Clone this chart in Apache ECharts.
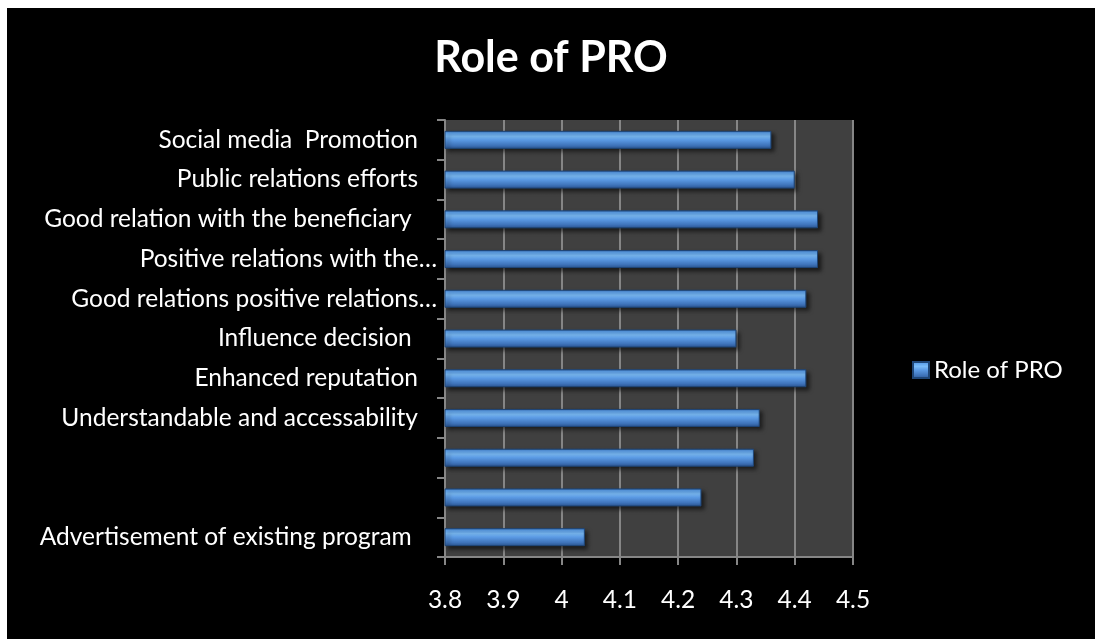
<!DOCTYPE html>
<html>
<head>
<meta charset="utf-8">
<script src="https://cdn.jsdelivr.net/npm/echarts@6/dist/echarts.min.js"></script>
<style>
html,body{margin:0;padding:0;background:#ffffff;}
#chart{position:absolute;left:7px;top:8px;width:1088px;height:631px;}
</style>
</head>
<body>
<div id="chart"></div>
<script>
// Data (top to bottom)
const titleText = 'Role of PRO';
const seriesName = 'Role of PRO';
const categories = [
  'Social media  Promotion',
  'Public relations efforts',
  'Good relation with the beneficiary ',
  'Positive relations with the…',
  'Good relations positive relations…',
  'Influence decision ',
  'Enhanced reputation',
  'Understandable and accessability',
  '',
  '',
  'Advertisement of existing program '
];
const values = [4.36, 4.40, 4.44, 4.44, 4.42, 4.30, 4.42, 4.34, 4.33, 4.24, 4.04];
const xMin = 3.8, xMax = 4.5, xStep = 0.1;

const FONT = 'Lato';
const LABEL_SIZE = 24.5;
const chart = echarts.init(document.getElementById('chart'));

const barGradient = new echarts.graphic.LinearGradient(0, 0, 0, 1, [
  {offset: 0, color: '#2f62a6'},
  {offset: 0.12, color: '#5ea2ec'},
  {offset: 0.3, color: '#7bbcf8'},
  {offset: 0.5, color: '#5b9ae4'},
  {offset: 0.8, color: '#3f74bb'},
  {offset: 1, color: '#2b5592'}
]);

chart.setOption({
  backgroundColor: '#000000',
  animation: false,
  title: {
    text: titleText,
    left: 'center',
    top: 24,
    textStyle: {color: '#ffffff', fontFamily: FONT, fontWeight: 'bold', fontSize: 43}
  },
  legend: {
    data: [seriesName],
    left: 900,
    top: 345,
    itemWidth: 16,
    itemHeight: 16,
    itemGap: 6,
    icon: 'rect',
    textStyle: {color: '#ffffff', fontFamily: FONT, fontSize: 24}
  },
  grid: {
    left: 438,
    right: 242,
    top: 112,
    bottom: 82,
    show: true,
    backgroundColor: '#404040',
    borderWidth: 0
  },
  xAxis: {
    type: 'value',
    min: xMin,
    max: xMax,
    interval: xStep,
    axisLine: {show: true, lineStyle: {color: '#868686', width: 2}},
    axisTick: {show: true, length: 8, lineStyle: {color: '#868686', width: 2}},
    axisLabel: {color: '#ffffff', fontFamily: FONT, fontSize: LABEL_SIZE, margin: 31,
      formatter: v => String(Math.round(v * 10) / 10)},
    splitLine: {show: true, lineStyle: {color: '#868686', width: 2}}
  },
  yAxis: {
    type: 'category',
    inverse: true,
    data: categories,
    axisLine: {show: true, lineStyle: {color: '#868686', width: 2}},
    axisTick: {show: true, length: 8, lineStyle: {color: '#868686', width: 2}},
    axisLabel: {
      color: '#ffffff', fontFamily: FONT, fontSize: LABEL_SIZE, margin: 8, interval: 0,
      formatter: v => v.endsWith('…') ? '{e|' + v + '}' : '{n|' + v + '}',
      rich: {
        e: {color: '#ffffff', fontFamily: FONT, fontSize: LABEL_SIZE},
        n: {color: '#ffffff', fontFamily: FONT, fontSize: LABEL_SIZE, padding: [0, 19, 0, 0]}
      }
    },
    splitLine: {show: false}
  },
  series: [{
    name: seriesName,
    type: 'bar',
    data: values,
    barWidth: 18,
    itemStyle: {
      color: barGradient,
      borderColor: '#1f4677',
      borderWidth: 1,
      shadowColor: 'rgba(0,0,0,0.55)',
      shadowBlur: 4,
      shadowOffsetX: 3,
      shadowOffsetY: 3
    }
  }]
});
</script>
</body>
</html>
